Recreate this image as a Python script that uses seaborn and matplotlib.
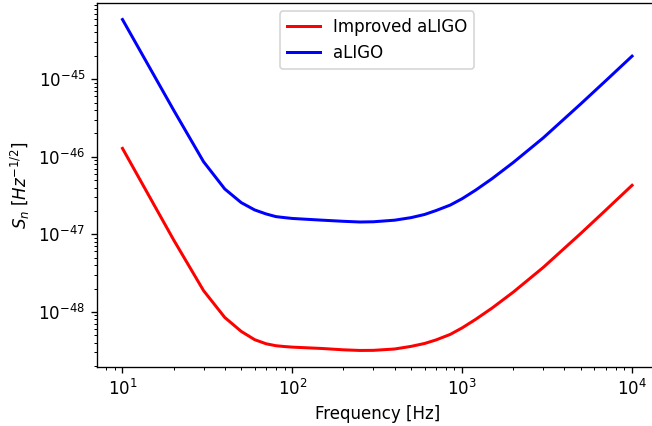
import numpy as np
import pandas as pd
import matplotlib
matplotlib.use("Agg")
import matplotlib.pyplot as plt
import seaborn as sns

# Detector noise curves, sampled in frequency (Hz)
freq = [10, 20, 30, 40, 50, 60, 70, 80, 90, 100, 150, 200, 250, 300, 400,
        500, 600, 700, 850, 1000, 1200, 1500, 2000, 3000, 5000, 7000, 10000]

aligo = [5.87e-45, 3.99e-46, 8.63e-47, 3.84e-47, 2.56e-47, 2.06e-47, 1.83e-47,
         1.69e-47, 1.64e-47, 1.60e-47, 1.52e-47, 1.47e-47, 1.44e-47, 1.45e-47,
         1.52e-47, 1.64e-47, 1.80e-47, 2.02e-47, 2.38e-47, 2.88e-47, 3.71e-47,
         5.22e-47, 8.44e-47, 1.75e-46, 4.82e-46, 9.54e-46, 1.98e-45]

improved_aligo = [1.28e-46, 8.47e-48, 1.88e-48, 8.47e-49, 5.60e-49, 4.38e-49,
                  3.88e-49, 3.66e-49, 3.57e-49, 3.51e-49, 3.37e-49, 3.24e-49,
                  3.18e-49, 3.19e-49, 3.32e-49, 3.59e-49, 3.91e-49, 4.34e-49,
                  5.12e-49, 6.22e-49, 8.01e-49, 1.12e-48, 1.80e-48, 3.74e-48,
                  1.03e-47, 2.05e-47, 4.28e-47]

labels = ["Improved aLIGO", "aLIGO"]
colors = {"Improved aLIGO": "red", "aLIGO": "blue"}

df = pd.concat([
    pd.DataFrame({"f": freq, "S": improved_aligo, "curve": labels[0]}),
    pd.DataFrame({"f": freq, "S": aligo, "curve": labels[1]}),
], ignore_index=True)

DPI = 120
fig = plt.figure(figsize=(652 / DPI, 426 / DPI), dpi=DPI)
ax = fig.add_axes([0.1488, 0.1385, 0.8597, 0.8545])
ax.set_xscale("log")
ax.set_yscale("log")

sns.lineplot(data=df, x="f", y="S", hue="curve", hue_order=labels,
             palette=colors, estimator=None, sort=True, linewidth=1.8, ax=ax)

ax.set_xlabel("Frequency [Hz]")
ax.set_ylabel(r"$S_n$ $[Hz^{-1/2}]$")
ax.legend(loc="upper center", title=None)

fig.savefig("out.png", dpi=DPI)
